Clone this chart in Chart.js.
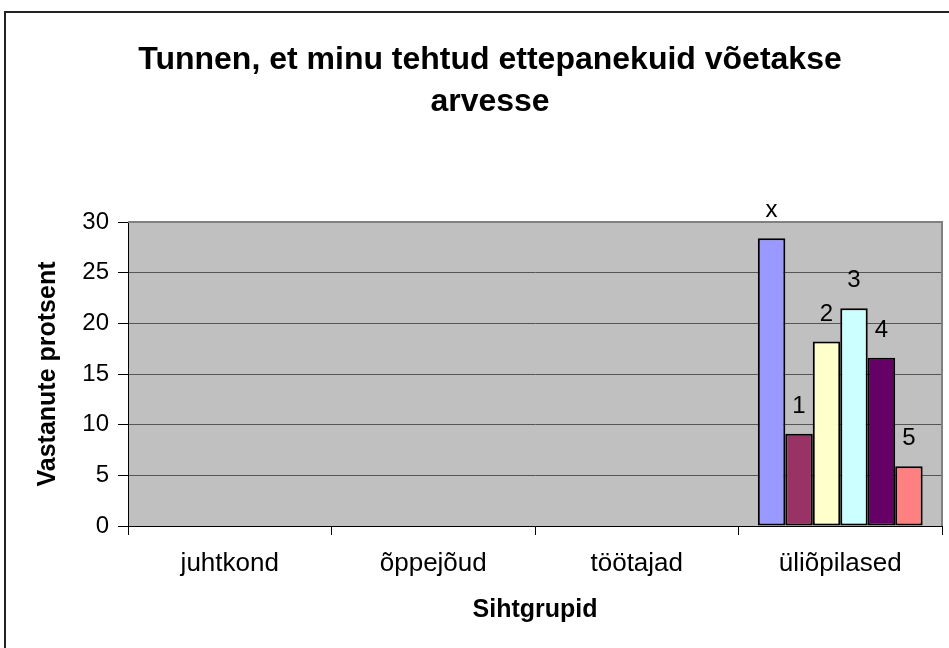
<!DOCTYPE html>
<html lang="et">

<head>
	<meta charset="UTF-8">
	<title>Tunnen, et minu tehtud ettepanekuid võetakse arvesse</title>
	<script src="https://cdn.jsdelivr.net/npm/chart.js"></script>
	<style>
		html, body { margin: 0; padding: 0; background: #fff; }
		#wrap { width: 949px; height: 648px; }
	</style>
</head>

<body>
	<div id="wrap">
		<canvas id="surveyChart" width="949" height="648"></canvas>
	</div>
	<script>
	// categories (target groups) and answer series
	const groups = ['juhtkond', 'õppejõud', 'töötajad', 'üliõpilased'];
	const answerLabels = ['x', '1', '2', '3', '4', '5'];
	const answerColors = ['#9999FF', '#993366', '#FFFFCC', '#CCFFFF', '#660066', '#FF8080'];
	// percentages per answer, one value per group (only students answered)
	const answerX = [null, null, null, 28.4];
	const answer1 = [null, null, null, 9.1];
	const answer2 = [null, null, null, 18.2];
	const answer3 = [null, null, null, 21.5];
	const answer4 = [null, null, null, 16.6];
	const answer5 = [null, null, null, 5.9];
	const yTicks = [0, 5, 10, 15, 20, 25, 30];
	const titleLines = ['Tunnen, et minu tehtud ettepanekuid võetakse', 'arvesse'];

	const seriesValues = [answerX, answer1, answer2, answer3, answer4, answer5];
	const font = "'Liberation Sans', Arial, sans-serif";

	// white page + outer frame + grey plot area + title (Excel puts it a bit right of centre)
	const backdrop = {
		id: 'backdrop',
		beforeDraw(chart) {
			const { ctx, chartArea: a } = chart;
			ctx.save();
			ctx.fillStyle = '#fff';
			ctx.fillRect(0, 0, chart.width, chart.height);
			ctx.strokeStyle = '#222';
			ctx.lineWidth = 2;
			ctx.beginPath();
			ctx.moveTo(5, chart.height + 2);
			ctx.lineTo(5, 12);
			ctx.lineTo(chart.width + 2, 12);
			ctx.stroke();
			ctx.fillStyle = '#C0C0C0';
			ctx.fillRect(a.left, a.top, a.right - a.left, a.bottom - a.top);
			ctx.fillStyle = '#000';
			ctx.font = 'bold 32px ' + font;
			ctx.textAlign = 'center';
			ctx.textBaseline = 'middle';
			titleLines.forEach((line, i) => ctx.fillText(line, 490, 60 + i * 42));
			ctx.restore();
		},
		beforeDatasetsDraw(chart) {
			const { ctx, chartArea: a } = chart;
			ctx.save();
			ctx.strokeStyle = '#808080';
			ctx.lineWidth = 2;
			ctx.beginPath();
			ctx.moveTo(a.left, a.top);
			ctx.lineTo(a.right, a.top);
			ctx.lineTo(a.right, a.bottom);
			ctx.stroke();
			ctx.restore();
		}
	};

	// series name written above each bar
	const seriesNames = {
		id: 'seriesNames',
		afterDatasetsDraw(chart) {
			const { ctx } = chart;
			ctx.save();
			ctx.font = '24px ' + font;
			ctx.fillStyle = '#000';
			ctx.textAlign = 'center';
			ctx.textBaseline = 'alphabetic';
			chart.data.datasets.forEach((ds, i) => {
				chart.getDatasetMeta(i).data.forEach((bar, j) => {
					if(ds.data[j] == null) return;
					ctx.fillText(ds.label, bar.x, bar.y - 21);
				});
			});
			ctx.restore();
		}
	};

	const ctx = document.getElementById('surveyChart').getContext('2d');
	const surveyChart = new Chart(ctx, {
		type: 'bar',
		data: {
			labels: groups,
			datasets: answerLabels.map((name, i) => ({
				label: name,
				data: seriesValues[i],
				backgroundColor: answerColors[i],
				borderColor: '#000',
				borderWidth: 2,
				borderSkipped: false,
				categoryPercentage: 0.81,
				barPercentage: 1.0
			}))
		},
		options: {
			responsive: false,
			animation: false,
			layout: {
				padding: { top: 222, right: 7, bottom: 0, left: 0 }
			},
			plugins: {
				legend: { display: false },
				tooltip: { enabled: false },
				title: { display: false }
			},
			scales: {
				x: {
					afterFit(scale) { scale.height = 122; },
					grid: {
						offset: true,
						drawOnChartArea: false,
						tickLength: 9,
						tickColor: '#000'
					},
					border: { color: '#000', width: 1 },
					ticks: {
						color: '#000',
						padding: 13,
						font: { family: font, size: 26 }
					},
					title: {
						display: true,
						text: 'Sihtgrupid',
						color: '#000',
						font: { family: font, size: 25, weight: 'bold' },
						padding: { top: 0, bottom: 23 }
					}
				},
				y: {
					min: yTicks[0],
					max: yTicks[yTicks.length - 1],
					afterFit(scale) { scale.width = 128; },
					afterBuildTicks(scale) { scale.ticks = yTicks.map(v => ({ value: v })); },
					grid: {
						color: '#555',
						lineWidth: 1,
						tickLength: 10,
						tickColor: '#000'
					},
					border: { color: '#000', width: 1 },
					ticks: {
						color: '#000',
						padding: 9,
						font: { family: font, size: 24 }
					},
					title: {
						display: true,
						text: 'Vastanute protsent',
						color: '#000',
						font: { family: font, size: 25, weight: 'bold' },
						padding: { top: 33, bottom: 0 }
					}
				}
			}
		},
		plugins: [backdrop, seriesNames]
	});
	</script>
</body>

</html>
